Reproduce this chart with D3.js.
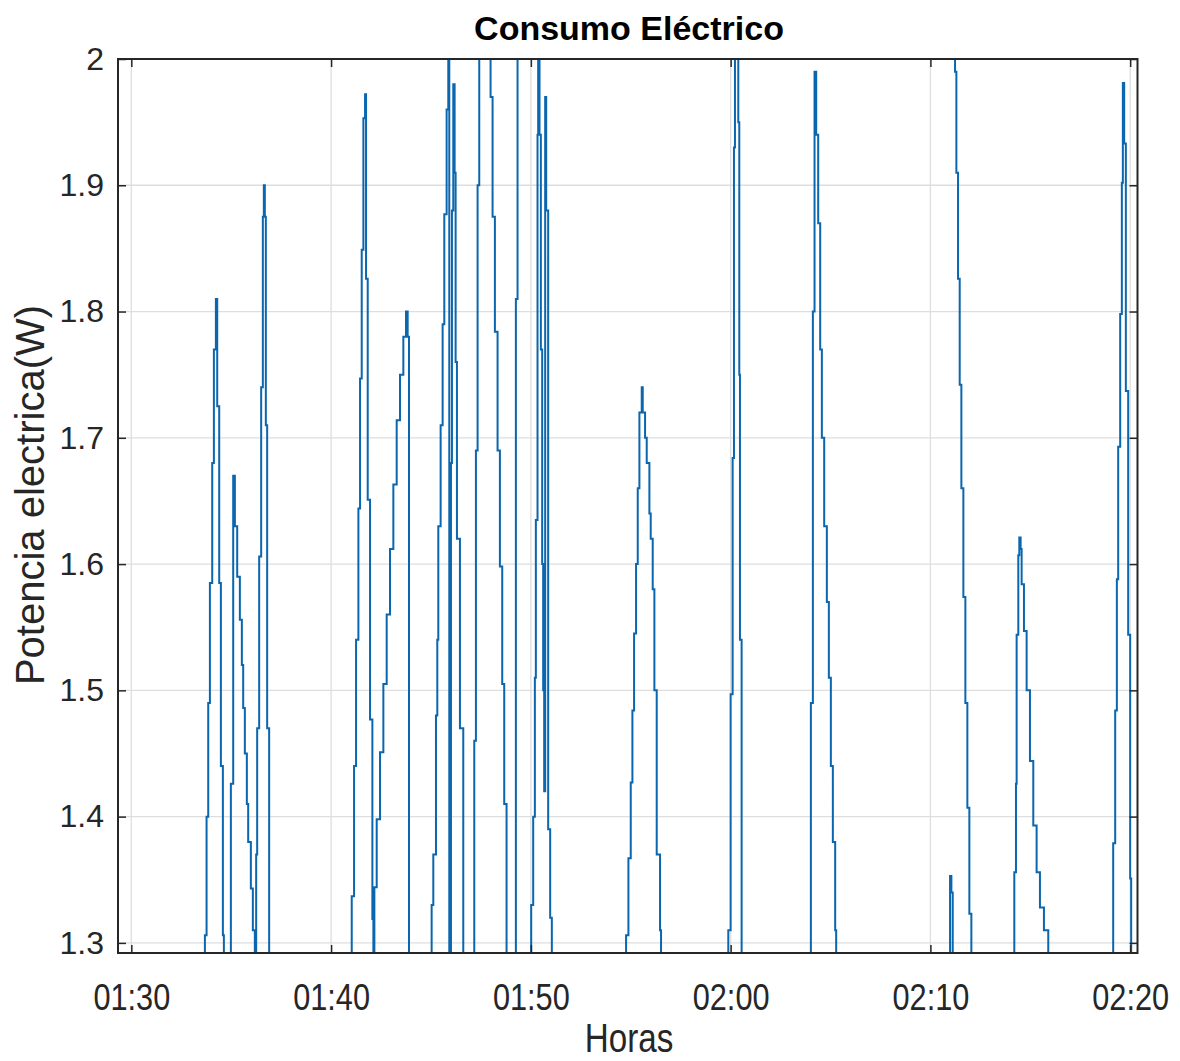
<!DOCTYPE html>
<html>
<head>
<meta charset="utf-8">
<script src="https://cdn.jsdelivr.net/npm/d3@7"></script>
<style>
  body { margin: 0; background: #fff; }
  svg { display: block; }
</style>
</head>
<body>
<script>
// samples of the meter (hh:mm:ss) and the power read at each one; null = no data
var horas = [
  "01:33:35","01:33:41","01:33:46","01:33:51","01:33:56","01:34:03","01:34:08","01:34:14","01:34:18","01:34:24","01:34:29","01:34:35","01:34:38",
  "01:34:59","01:35:06","01:35:11","01:35:18","01:35:26","01:35:32","01:35:36","01:35:41","01:35:47","01:35:51","01:35:59","01:36:05","01:36:11",
  "01:36:15","01:36:18","01:36:24","01:36:30","01:36:35","01:36:38","01:36:41","01:36:44","01:36:48","01:36:54",
  "01:41:02","01:41:09","01:41:15","01:41:22","01:41:27","01:41:32","01:41:37","01:41:42","01:41:45","01:41:50","01:41:57","01:42:04","01:42:07",
  "01:42:10","01:42:17","01:42:27","01:42:37","01:42:47","01:42:57","01:43:07","01:43:17","01:43:27","01:43:37","01:43:45","01:43:50","01:43:54",
  "01:45:02","01:45:07","01:45:15","01:45:19","01:45:22","01:45:29","01:45:35","01:45:40","01:45:47","01:45:52",
  "01:45:55","01:46:00","01:46:03","01:46:07","01:46:11","01:46:14","01:46:18","01:46:27","01:46:37",
  "01:47:10","01:47:15","01:47:20","01:47:25","01:47:59","01:48:05","01:48:12","01:48:20","01:48:27","01:48:34","01:48:40","01:48:47",
  "01:49:15","01:49:20","01:49:30",
  "01:49:57","01:50:01","01:50:07","01:50:12","01:50:15","01:50:20","01:50:22","01:50:26","01:50:30","01:50:34","01:50:37","01:50:40",
  "01:50:43","01:50:46","01:50:52","01:50:58","01:51:03",
  "01:54:46","01:54:53","01:55:00","01:55:05","01:55:10","01:55:16","01:55:21","01:55:26","01:55:33","01:55:36",
  "01:55:43","01:55:48","01:55:56","01:56:00","01:56:06","01:56:11","01:56:18","01:56:28","01:56:31",
  "01:59:53","02:00:00","02:00:06","02:00:10","02:00:13","02:00:23","02:00:26","02:00:28","02:00:33",
  "02:04:01","02:04:07","02:04:12","02:04:17","02:04:23","02:04:29","02:04:34","02:04:41","02:04:49","02:04:55","02:05:01","02:05:07","02:05:14","02:05:17",
  "02:10:59","02:11:03","02:11:07","02:11:08",
  "02:11:11","02:11:14","02:11:18","02:11:23","02:11:28","02:11:33","02:11:39","02:11:45","02:11:51","02:11:57","02:12:03",
  "02:14:12","02:14:17","02:14:19","02:14:24","02:14:27","02:14:31","02:14:34","02:14:41","02:14:49","02:14:59","02:15:09","02:15:19","02:15:29","02:15:41","02:15:54",
  "02:19:09","02:19:15","02:19:20","02:19:24","02:19:30","02:19:35","02:19:38","02:19:42","02:19:47","02:19:54","02:20:00","02:20:03"
];
var potencia = [
  1.25,1.306,1.40,1.49,1.585,1.68,1.77,1.81,1.725,1.585,1.44,1.306,1.25,
  1.426,1.67,1.63,1.59,1.556,1.52,1.486,1.45,1.41,1.38,1.343,1.31,1.25,
  1.37,1.47,1.606,1.74,1.875,1.90,1.875,1.71,1.47,1.25,
  1.337,1.44,1.54,1.644,1.747,1.849,1.953,1.972,1.826,1.651,1.477,1.319,1.26,
  1.344,1.398,1.451,1.505,1.56,1.612,1.663,1.714,1.75,1.78,1.80,1.78,1.25,
  1.33,1.37,1.48,1.54,1.63,1.71,1.79,1.877,1.96,2.10,
  1.25,1.68,1.88,1.98,1.91,1.76,1.62,1.47,1.25,
  1.46,1.69,1.90,2.10,1.97,1.875,1.784,1.69,1.598,1.505,1.41,1.25,
  1.81,2.10,null,
  1.25,1.33,1.40,1.51,1.635,1.94,2.10,1.94,1.77,1.60,1.50,1.42,
  1.97,1.88,1.39,1.32,1.25,
  1.306,1.367,1.427,1.484,1.545,1.60,1.66,1.72,1.74,1.72,
  1.70,1.68,1.64,1.62,1.58,1.50,1.37,1.31,1.25,
  1.31,1.497,1.684,1.93,2.10,1.95,1.75,1.54,1.25,
  1.49,1.80,1.99,1.94,1.87,1.77,1.70,1.63,1.57,1.51,1.44,1.38,1.31,1.25,
  1.353,1.34,1.25,null,
  2.10,1.99,1.91,1.826,1.742,1.66,1.574,1.49,1.407,1.323,1.25,
  1.356,1.426,1.544,1.607,1.621,1.612,1.584,1.547,1.50,1.444,1.393,1.356,1.328,1.31,1.25,
  1.379,1.484,1.588,1.693,1.798,1.902,1.981,1.933,1.737,1.544,1.351,1.25
];

var xTicks = ["01:30", "01:40", "01:50", "02:00", "02:10", "02:20"];
var yTicks = [1.3, 1.4, 1.5, 1.6, 1.7, 1.8, 1.9, 2];
var yTickLabels = ["1.3", "1.4", "1.5", "1.6", "1.7", "1.8", "1.9", "2"];
var xLimits = ["01:29:20", "02:20:22"];
var yLimits = [1.292, 2];

var width = 1180, height = 1061;
// plot box in pixels
var box = { left: 118, right: 1137.5, top: 59, bottom: 953 };
var font = "'Liberation Sans', Arial, Helvetica, sans-serif";
var ink = "#262626";

var parseT = d3.timeParse("%H:%M:%S");
var parseHM = d3.timeParse("%H:%M");

var x = d3.scaleTime().domain(xLimits.map(parseT)).range([box.left, box.right]);
var y = d3.scaleLinear().domain(yLimits).range([box.bottom, box.top]);

var svg = d3.select("body").append("svg")
    .attr("width", width)
    .attr("height", height);

svg.append("rect").attr("width", width).attr("height", height).attr("fill", "#fff");

svg.append("clipPath").attr("id", "plot")
  .append("rect")
    .attr("x", box.left).attr("y", box.top)
    .attr("width", box.right - box.left).attr("height", box.bottom - box.top);

// grid
var grid = svg.append("g").attr("stroke", "#dedede").attr("stroke-width", 1.3);
grid.selectAll(".gx").data(xTicks.map(parseHM)).enter().append("line")
    .attr("x1", function(d) { return x(d); }).attr("x2", function(d) { return x(d); })
    .attr("y1", box.top).attr("y2", box.bottom);
grid.selectAll(".gy").data(yTicks).enter().append("line")
    .attr("y1", function(d) { return y(d); }).attr("y2", function(d) { return y(d); })
    .attr("x1", box.left).attr("x2", box.right);

// data
var data = horas.map(function(h, i) { return { t: parseT(h), v: potencia[i] }; });

var line = d3.line()
    .defined(function(d) { return d.v !== null; })
    .x(function(d) { return x(d.t); })
    .y(function(d) { return y(d.v); })
    .curve(d3.curveStepAfter);

svg.append("path")
    .datum(data)
    .attr("clip-path", "url(#plot)")
    .attr("fill", "none")
    .attr("stroke", "#0a66ae")
    .attr("stroke-width", 2)
    .attr("d", line);

// axes (ticks pointing inwards, on all four sides)
function styleAxis(g) {
    g.select(".domain").remove();
    g.selectAll(".tick line").attr("stroke", ink).attr("stroke-width", 1.5);
    g.selectAll(".tick text").attr("fill", ink).attr("font-family", font);
}

var xAxis = svg.append("g")
    .attr("transform", "translate(0," + box.bottom + ")")
    .call(d3.axisBottom(x)
        .tickValues(xTicks.map(parseHM))
        .tickFormat(d3.timeFormat("%H:%M"))
        .tickSize(-8).tickPadding(31))
    .call(styleAxis);
xAxis.selectAll(".tick text")
    .attr("font-size", 37)
    .attr("transform", "scale(0.83,1)");

svg.append("g")
    .attr("transform", "translate(0," + box.top + ")")
    .call(d3.axisTop(x).tickValues(xTicks.map(parseHM)).tickFormat("").tickSize(-8))
    .call(styleAxis);

svg.append("g")
    .attr("transform", "translate(" + box.left + ",0)")
    .call(d3.axisLeft(y)
        .tickValues(yTicks)
        .tickFormat(function(d, i) { return yTickLabels[i]; })
        .tickSize(-8).tickPadding(14))
    .call(styleAxis)
    .selectAll(".tick text").attr("font-size", 32);

svg.append("g")
    .attr("transform", "translate(" + box.right + ",0)")
    .call(d3.axisRight(y).tickValues(yTicks).tickFormat("").tickSize(-8))
    .call(styleAxis);

// box
svg.append("rect")
    .attr("x", box.left).attr("y", box.top)
    .attr("width", box.right - box.left).attr("height", box.bottom - box.top)
    .attr("fill", "none")
    .attr("stroke", ink)
    .attr("stroke-width", 2);

// texts
svg.append("text")
    .attr("x", 629).attr("y", 40)
    .attr("text-anchor", "middle")
    .attr("font-family", font)
    .attr("font-weight", "bold")
    .attr("font-size", 34)
    .attr("fill", "#000")
    .text("Consumo Eléctrico");

svg.append("text")
    .attr("transform", "translate(629,1052) scale(0.83,1)")
    .attr("text-anchor", "middle")
    .attr("font-family", font)
    .attr("font-size", 40)
    .attr("fill", ink)
    .text("Horas");

svg.append("text")
    .attr("transform", "translate(44,495) rotate(-90)")
    .attr("text-anchor", "middle")
    .attr("font-family", font)
    .attr("font-size", 40)
    .attr("fill", ink)
    .text("Potencia electrica(W)");
</script>
</body>
</html>
